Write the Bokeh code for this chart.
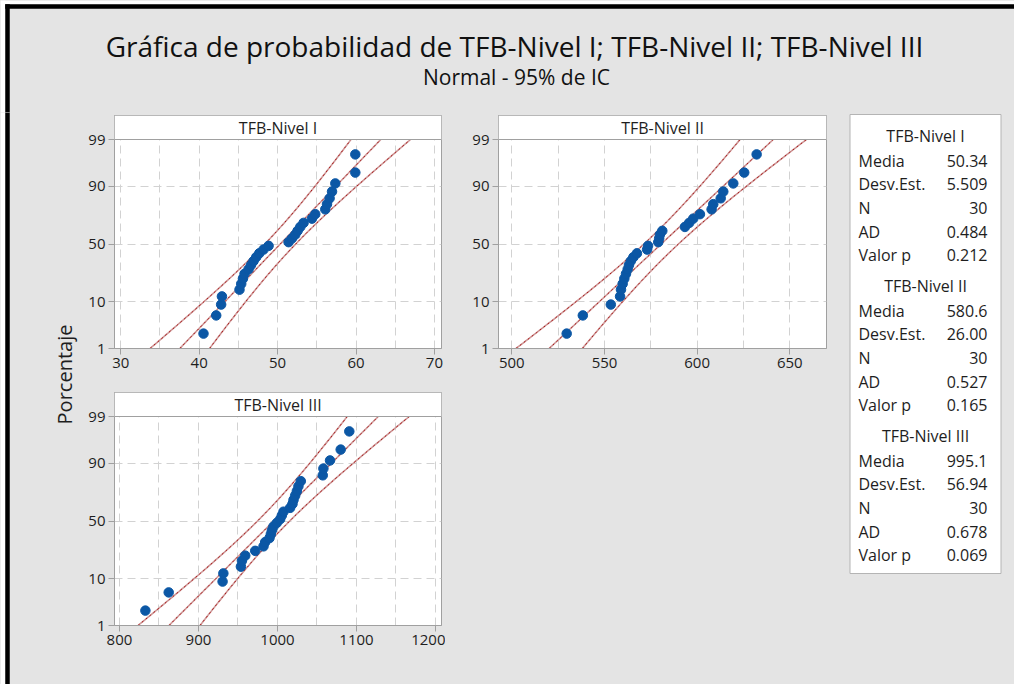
import math
from statistics import NormalDist
from bokeh.plotting import figure
from bokeh.layouts import row, column
from bokeh.models import (Range1d, FixedTicker, SingleIntervalTicker, CustomJSTickFormatter,
                          BoxAnnotation, Span, Label)
from bokeh.core.properties import value
from bokeh.embed import file_html
from bokeh.resources import INLINE

# ---------------- data ----------------
TITLE = "Gráfica de probabilidad de TFB-Nivel I; TFB-Nivel II; TFB-Nivel III"
SUBTITLE = "Normal - 95% de IC"
YLABEL = "Porcentaje"
SERIES = ["TFB-Nivel I", "TFB-Nivel II", "TFB-Nivel III"]

nivel_1 = [40.55, 42.17, 42.8, 42.9, 45.14, 45.36, 45.58, 45.78, 46.29, 46.6,
           46.93, 47.27, 47.66, 48.2, 48.85, 51.4, 51.83, 52.25, 52.55, 52.89,
           53.31, 54.38, 54.8, 56.08, 56.3, 56.63, 56.94, 57.36, 59.91, 59.91]
nivel_2 = [529.6, 538.3, 553.4, 558.4, 558.9, 559.8, 560.7, 561.6, 562.5, 563.2,
           564.2, 565.6, 567.5, 573.0, 573.5, 579.0, 579.5, 579.9, 581.2, 593.4,
           595.7, 597.9, 601.5, 607.8, 608.7, 612.7, 614.1, 619.5, 625.4, 632.1]
nivel_3 = [832.8, 862.3, 930.5, 931.5, 953.7, 955.0, 959.2, 971.8, 982.3, 984.4,
           989.9, 991.6, 992.9, 994.9, 999.2, 1003.4, 1005.5, 1007.6, 1016.0, 1019.0,
           1020.3, 1022.4, 1024.5, 1026.5, 1029.5, 1057.3, 1058.1, 1066.5, 1080.0, 1090.9]
DATA = [nivel_1, nivel_2, nivel_3]

MEDIA = [50.34, 580.6, 995.1]
DESV = [5.509, 26.00, 56.94]
N = [30, 30, 30]
AD = [0.484, 0.527, 0.678]
VALOR_P = [0.212, 0.165, 0.069]
STAT_LABELS = ["Media", "Desv.Est.", "N", "AD", "Valor p"]

Y_TICK_PCT = [1, 10, 50, 90, 99]
X_TICKS = [[30, 40, 50, 60, 70], [500, 550, 600, 650], [800, 900, 1000, 1100, 1200]]
X_GRID_STEP = [5, 25, 50]
X_RANGES = [(29.2, 70.9), (492.8, 669.8), (793.7, 1207.6)]

# ---------------- style ----------------
BG = "#e4e4e4"
GRAY = "#a0a0a0"
GRID = "#d2d2d2"
BLUE = "#0b57a5"
FONT = "Open Sans"
TXT = "#1e1e1e"
BGSTYLE = {"background-color": BG}

nd = NormalDist()
Z_LO = nd.inv_cdf(0.01)
Z_HI = nd.inv_cdf(0.99)
Z_TICKS = [nd.inv_cdf(v / 100.0) for v in Y_TICK_PCT]
FRAME_H = 233
STRIP = 24
PPU = (FRAME_H - STRIP) / (Z_HI - Z_LO)
Z_TOP = Z_HI + STRIP / PPU


def panel(k, width, height, left, right, top, bottom):
    p = figure(width=width, height=height, output_backend="svg", toolbar_location=None,
               x_range=Range1d(*X_RANGES[k]), y_range=Range1d(Z_LO, Z_TOP),
               min_border_left=left, min_border_right=right,
               min_border_top=top, min_border_bottom=bottom)
    p.border_fill_color = BG
    p.background_fill_color = "white"
    p.outline_line_color = GRAY
    p.outline_line_width = 1

    p.xaxis.ticker = FixedTicker(ticks=X_TICKS[k])
    p.yaxis.ticker = FixedTicker(ticks=Z_TICKS)
    p.yaxis.formatter = CustomJSTickFormatter(
        args=dict(zs=Z_TICKS, labs=[str(v) for v in Y_TICK_PCT]),
        code="""
        let b = 0;
        for (let i = 0; i < zs.length; i++) {
            if (Math.abs(tick - zs[i]) < Math.abs(tick - zs[b])) b = i;
        }
        return labs[b];
        """)
    for ax in (p.xaxis[0], p.yaxis[0]):
        ax.axis_line_color = GRAY
        ax.major_tick_line_color = GRAY
        ax.major_tick_out = 6
        ax.major_tick_in = 0
        ax.minor_tick_line_color = None
        ax.major_label_text_font = FONT
        ax.major_label_text_font_size = "15px"
        ax.major_label_text_color = TXT
        ax.major_label_standoff = 3

    p.xgrid.ticker = SingleIntervalTicker(interval=X_GRID_STEP[k])
    p.ygrid.ticker = FixedTicker(ticks=Z_TICKS)
    for g in (p.xgrid[0], p.ygrid[0]):
        g.grid_line_color = GRID
        g.grid_line_dash = "8 5"
        g.grid_line_width = 1

    # confidence bands and fitted line
    mu, s, n = MEDIA[k], DESV[k], N[k]
    steps = 80
    zs = [Z_LO + (Z_HI - Z_LO) * i / steps for i in range(steps + 1)]
    fit = [mu + z * s for z in zs]
    se = [s * math.sqrt(1.0 / n + z * z / (2.0 * n)) for z in zs]
    lo = [f - 1.96 * e for f, e in zip(fit, se)]
    hi = [f + 1.96 * e for f, e in zip(fit, se)]
    for xs in (lo, fit, hi):
        p.line(xs, zs, line_color="#cf9a9a", line_width=1.6)
        p.line(xs, zs, line_color="#a81818", line_width=1.0, line_dash="2 3")

    # points (median ranks)
    vals = sorted(DATA[k])
    m = len(vals)
    zp = [nd.inv_cdf((i + 1 - 0.3) / (m + 0.4)) for i in range(m)]
    p.scatter(vals, zp, size=9.5, marker="circle", fill_color=BLUE, line_color=BLUE)

    # strip with panel title
    p.add_layout(BoxAnnotation(bottom=Z_HI, fill_color="white", fill_alpha=1.0,
                               line_color=None))
    p.add_layout(Span(location=Z_HI, dimension="width", line_color=GRAY, line_width=1))
    p.add_layout(Label(x=(X_RANGES[k][0] + X_RANGES[k][1]) / 2.0, y=(Z_HI + Z_TOP) / 2.0,
                       text=SERIES[k], text_align="center", text_baseline="middle",
                       text_font=FONT, text_font_size="16px", text_color=TXT))
    return p


def blank(width, height, xr, yr):
    b = figure(width=width, height=height, output_backend="svg", toolbar_location=None,
               x_range=Range1d(*xr), y_range=Range1d(*yr),
               min_border=0, min_border_left=0, min_border_right=0,
               min_border_top=0, min_border_bottom=0)
    b.axis.visible = False
    b.grid.visible = False
    b.outline_line_color = None
    b.background_fill_color = BG
    b.border_fill_color = BG
    return b


# ---------------- header ----------------
HEAD_H = 112
head = blank(1014, HEAD_H, (0, 1014), (HEAD_H, 0))
head.quad(left=[0, 0], right=[1014, 5], top=[0, 0], bottom=[4, HEAD_H + 2], fill_color="white", line_color=None)
head.quad(left=[5, 5], right=[1014, 9], top=[4, 4], bottom=[8, HEAD_H + 2], fill_color="black",
          line_color="black", line_width=0.5)
head.text(x=[514], y=[45], text=[TITLE], text_align="center", text_baseline="middle",
          text_font=value(FONT), text_font_size="28px", text_color="#111111")
head.text(x=[516], y=[76], text=[SUBTITLE], text_align="center", text_baseline="middle",
          text_font=value(FONT), text_font_size="21px", text_color="#111111")

BODY_H = 684 - HEAD_H

# ---------------- y label column ----------------
ylab = blank(78, BODY_H, (0, 78), (0, BODY_H))
ylab.quad(left=[0], right=[5], bottom=[-2], top=[BODY_H + 2], fill_color="white", line_color=None)
ylab.quad(left=[5], right=[9], bottom=[-2], top=[BODY_H + 2], fill_color="black",
          line_color="black", line_width=0.5)
ylab.text(x=[64], y=[BODY_H - 262], text=[YLABEL], angle=math.pi / 2, text_align="center",
          text_baseline="middle", text_font=value(FONT), text_font_size="20px", text_color=TXT)

# ---------------- panels ----------------
p1 = panel(0, 367, 268, 36, 4, 3, 32)
p2 = panel(1, 390, 268, 53, 9, 3, 32)
p3 = panel(2, 367, 304, 36, 4, 12, 59)
filler = blank(390, 304, (0, 1), (0, 1))

# ---------------- statistics box ----------------
LEG_W = 179
leg = blank(LEG_W, BODY_H, (0, LEG_W), (BODY_H, 0))
leg.quad(left=[14.5], right=[165.5], top=[2], bottom=[461], fill_color="white", line_color="#b4b4b4")
tx, ty, lx, ly, lt, vx, vy, vt = [], [], [], [], [], [], [], []
for g in range(len(SERIES)):
    y0 = 23 + 150 * g
    tx.append(90); ty.append(y0)
    vals_txt = [f"{MEDIA[g]:#.4g}", f"{DESV[g]:#.4g}", f"{N[g]}", f"{AD[g]:.3f}", f"{VALOR_P[g]:.3f}"]
    for r, (lab, v) in enumerate(zip(STAT_LABELS, vals_txt)):
        yy = y0 + 25 + 23.7 * r
        lx.append(23); ly.append(yy); lt.append(lab)
        vx.append(152); vy.append(yy); vt.append(v)
leg.text(x=tx, y=ty, text=SERIES, text_align="center", text_baseline="middle",
         text_font=value(FONT), text_font_size="16px", text_color=TXT)
leg.text(x=lx, y=ly, text=lt, text_align="left", text_baseline="middle",
         text_font=value(FONT), text_font_size="16px", text_color=TXT)
leg.text(x=vx, y=vy, text=vt, text_align="right", text_baseline="middle",
         text_font=value(FONT), text_font_size="16px", text_color=TXT)

grid_col = column(row(p1, p2, styles=BGSTYLE), row(p3, filler, styles=BGSTYLE), styles=BGSTYLE)
body = row(ylab, grid_col, leg, styles=BGSTYLE)
layout = column(head, body, styles=BGSTYLE)

open("out.html", "w").write(file_html(layout, INLINE))
